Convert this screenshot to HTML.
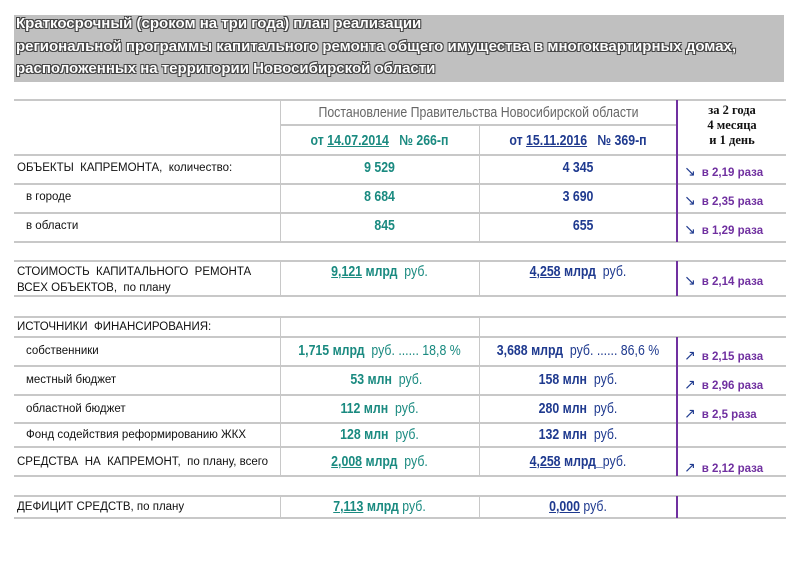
<!DOCTYPE html>
<html><head><meta charset="utf-8">
<style>
html,body{margin:0;padding:0;background:#fff;}
#page{position:relative;width:800px;height:565px;overflow:hidden;font-family:"Liberation Sans","DejaVu Sans",sans-serif;}
.title{position:absolute;left:14px;top:15px;width:770px;height:67px;background:#c0c0c0;}
.title div{position:absolute;left:2px;color:#fff;font-size:15px;font-weight:bold;text-shadow:-1px -1px 0 #444,1px -1px 0 #444,-1px 1px 0 #444,1px 1px 0 #444;white-space:nowrap;transform:scaleX(1.0);transform-origin:left;}
.h{position:absolute;height:2px;background:#c8c8c8;}
.v{position:absolute;width:1px;background:#c8c8c8;}
.p{position:absolute;width:2px;left:676px;background:#7030a0;}
.t{position:absolute;white-space:nowrap;font-size:11.5px;color:#111;}
.n{position:absolute;white-space:nowrap;font-size:14.5px;transform:scaleX(0.85);transform-origin:center;text-align:center;}
.g{color:#1a8a80;font-weight:bold;}
.b{color:#1f3a8f;font-weight:bold;}
.r{font-weight:normal;}
.u{text-decoration:underline;}
.ratio{position:absolute;left:684px;white-space:nowrap;color:#7030a0;font-size:11.5px;font-weight:bold;}
.ratio span{color:#1f3a8f;font-size:14px;font-weight:normal;margin-right:6px;}
</style></head><body>
<div id="page">
<div class="title">
<div style="top:0px">Краткосрочный (сроком на три года) план реализации</div>
<div style="top:23px">региональной программы капитального ремонта общего имущества в многоквартирных домах,</div>
<div style="top:45px">расположенных на территории Новосибирской области</div>
</div>

<div class="h" style="left:14px;width:772px;top:99px"></div>
<div class="h" style="left:280px;width:397px;top:124px"></div>
<div class="h" style="left:14px;width:772px;top:154px"></div>
<div class="h" style="left:14px;width:772px;top:183px"></div>
<div class="h" style="left:14px;width:772px;top:212px"></div>
<div class="h" style="left:14px;width:772px;top:241px"></div>
<div class="h" style="left:14px;width:772px;top:260px"></div>
<div class="h" style="left:14px;width:772px;top:295px"></div>
<div class="h" style="left:14px;width:772px;top:316px"></div>
<div class="h" style="left:14px;width:772px;top:336px"></div>
<div class="h" style="left:14px;width:772px;top:365px"></div>
<div class="h" style="left:14px;width:772px;top:394px"></div>
<div class="h" style="left:14px;width:772px;top:422px"></div>
<div class="h" style="left:14px;width:772px;top:446px"></div>
<div class="h" style="left:14px;width:772px;top:475px"></div>
<div class="h" style="left:14px;width:772px;top:495px"></div>
<div class="h" style="left:14px;width:772px;top:517px"></div>
<div class="v" style="left:280px;top:100px;height:142px"></div>
<div class="v" style="left:479px;top:125px;height:117px"></div>
<div class="v" style="left:280px;top:261px;height:35px"></div>
<div class="v" style="left:479px;top:261px;height:35px"></div>
<div class="v" style="left:280px;top:317px;height:159px"></div>
<div class="v" style="left:479px;top:317px;height:159px"></div>
<div class="v" style="left:280px;top:496px;height:22px"></div>
<div class="v" style="left:479px;top:496px;height:22px"></div>
<div class="p" style="top:100px;height:142px"></div>
<div class="p" style="top:261px;height:35px"></div>
<div class="p" style="top:337px;height:139px"></div>
<div class="p" style="top:496px;height:22px"></div>

<div class="n" style="left:280px;width:397px;top:105px;color:#666;font-size:14.5px">Постановление Правительства Новосибирской области</div>
<div class="n g" style="left:280px;width:199px;top:133px">от <span class="u">14.07.2014</span>&nbsp;&nbsp; № 266-п</div>
<div class="n b" style="left:479px;width:198px;top:133px">от <span class="u">15.11.2016</span>&nbsp;&nbsp; № 369-п</div>
<div style="position:absolute;left:678px;width:108px;top:103px;text-align:center;font-family:'Liberation Serif',serif;font-weight:bold;font-size:12.5px;line-height:15px;color:#111">за 2 года<br>4 месяца<br>и 1 день</div>

<div class="t" style="left:17px;top:162px">ОБЪЕКТЫ&nbsp; КАПРЕМОНТА,&nbsp; количество:</div>
<div class="n g" style="left:280px;width:199px;top:160px">9 529</div>
<div class="n b" style="left:479px;width:198px;top:160px">4 345</div>
<div class="ratio" style="top:163px"><span>↘</span>в 2,19 раза</div>

<div class="t" style="left:26px;top:191px">в городе</div>
<div class="n g" style="left:280px;width:199px;top:189px">8 684</div>
<div class="n b" style="left:479px;width:198px;top:189px">3 690</div>
<div class="ratio" style="top:192px"><span>↘</span>в 2,35 раза</div>

<div class="t" style="left:26px;top:220px">в области</div>
<div class="n g" style="left:280px;width:199px;top:218px">&nbsp;&nbsp;&nbsp;845</div>
<div class="n b" style="left:479px;width:198px;top:218px">&nbsp;&nbsp;&nbsp;655</div>
<div class="ratio" style="top:221px"><span>↘</span>в 1,29 раза</div>

<div class="t" style="left:17px;top:264px;line-height:16px">СТОИМОСТЬ&nbsp; КАПИТАЛЬНОГО&nbsp; РЕМОНТА<br>ВСЕХ ОБЪЕКТОВ,&nbsp; по плану</div>
<div class="n g" style="left:280px;width:199px;top:264px"><span class="u">9,121</span> млрд&nbsp; <span class="r">руб.</span></div>
<div class="n b" style="left:479px;width:198px;top:264px"><span class="u">4,258</span> млрд&nbsp; <span class="r">руб.</span></div>
<div class="ratio" style="top:272px"><span>↘</span>в 2,14 раза</div>

<div class="t" style="left:17px;top:321px">ИСТОЧНИКИ&nbsp; ФИНАНСИРОВАНИЯ:</div>

<div class="t" style="left:26px;top:345px">собственники</div>
<div class="n g" style="left:280px;width:199px;top:343px">1,715 млрд&nbsp; <span class="r">руб. ...... 18,8 %</span></div>
<div class="n b" style="left:479px;width:198px;top:343px">3,688 млрд&nbsp; <span class="r">руб. ...... 86,6 %</span></div>
<div class="ratio" style="top:347px"><span>↗</span>в 2,15 раза</div>

<div class="t" style="left:26px;top:374px">местный бюджет</div>
<div class="n g" style="left:280px;width:199px;top:372px">&nbsp;&nbsp;&nbsp;&nbsp;53 млн&nbsp; <span class="r">руб.</span></div>
<div class="n b" style="left:479px;width:198px;top:372px">158 млн&nbsp; <span class="r">руб.</span></div>
<div class="ratio" style="top:376px"><span>↗</span>в 2,96 раза</div>

<div class="t" style="left:26px;top:403px">областной бюджет</div>
<div class="n g" style="left:280px;width:199px;top:401px">112 млн&nbsp; <span class="r">руб.</span></div>
<div class="n b" style="left:479px;width:198px;top:401px">280 млн&nbsp; <span class="r">руб.</span></div>
<div class="ratio" style="top:405px"><span>↗</span>в 2,5 раза</div>

<div class="t" style="left:26px;top:429px">Фонд содействия реформированию ЖКХ</div>
<div class="n g" style="left:280px;width:199px;top:427px">128 млн&nbsp; <span class="r">руб.</span></div>
<div class="n b" style="left:479px;width:198px;top:427px">132 млн&nbsp; <span class="r">руб.</span></div>

<div class="t" style="left:17px;top:456px">СРЕДСТВА&nbsp; НА&nbsp; КАПРЕМОНТ,&nbsp; по плану, всего</div>
<div class="n g" style="left:280px;width:199px;top:454px"><span class="u">2,008</span> млрд&nbsp; <span class="r">руб.</span></div>
<div class="n b" style="left:479px;width:198px;top:454px"><span class="u">4,258</span> млрд_<span class="r">руб.</span></div>
<div class="ratio" style="top:459px"><span>↗</span>в 2,12 раза</div>

<div class="t" style="left:17px;top:501px">ДЕФИЦИТ СРЕДСТВ, по плану</div>
<div class="n g" style="left:280px;width:199px;top:499px"><span class="u">7,113</span> млрд <span class="r">руб.</span></div>
<div class="n b" style="left:479px;width:198px;top:499px"><span class="u">0,000</span> <span class="r">руб.</span></div>
</div>
</body></html>
